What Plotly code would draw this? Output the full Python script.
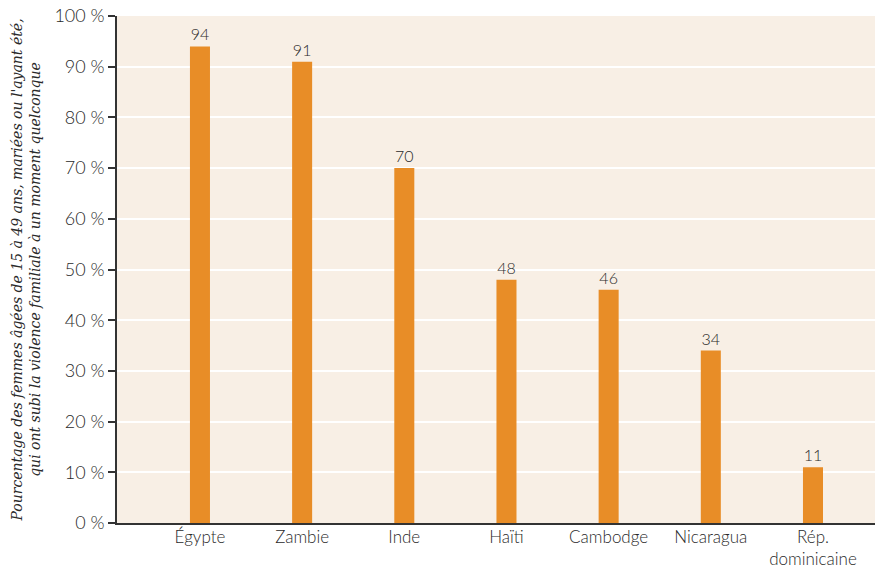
import plotly.graph_objects as go

categories = ["Égypte", "Zambie", "Inde", "Haïti", "Cambodge", "Nicaragua", "Rép.<br>dominicaine"]
values = [94, 91, 70, 48, 46, 34, 11]
y_ticks = [0, 10, 20, 30, 40, 50, 60, 70, 80, 90, 100]
y_tick_labels = [f"{v} %" for v in y_ticks]

fig = go.Figure(go.Bar(
    x=list(range(len(categories))),
    y=values,
    width=0.196,
    marker=dict(color="#e88d27", line=dict(width=0)),
    text=[str(v) for v in values],
    textposition="outside",
    textfont=dict(family="Lato", size=16, color="#2a2a2a", weight=300),
    cliponaxis=False,
))

fig.update_layout(
    width=875, height=570,
    margin=dict(l=117, r=0, t=16, b=47),
    paper_bgcolor="white",
    plot_bgcolor="#f8efe5",
    showlegend=False,
    font=dict(family="Lato", color="#2a2a2a"),
)
fig.update_xaxes(
    tickmode="array",
    tickvals=list(range(len(categories))),
    ticktext=categories,
    range=[-0.812, 6.607],
    showgrid=False,
    showline=True, linecolor="#333333", linewidth=1.5,
    ticks="", tickfont=dict(family="Lato", size=17, color="#2a2a2a", weight=300),
    ticklabelstandoff=-2,
    automargin=False,
    fixedrange=True,
)
fig.update_yaxes(
    range=[0, 100],
    tickmode="array",
    tickvals=y_ticks,
    ticktext=y_tick_labels,
    showgrid=True, gridcolor="white", gridwidth=1.5,
    showline=True, linecolor="#333333", linewidth=1.5,
    ticks="outside", ticklen=7, tickcolor="#333333", tickwidth=1.5,
    tickfont=dict(family="Lato", size=18, color="#2a2a2a", weight=300),
    zeroline=False,
    automargin=False,
    title=dict(
        text="<i>Pourcentage des femmes âgées de 15 à 49 ans, mariées ou l'ayant été,<br>qui ont subi la violence familiale à un moment quelconque</i>",
        font=dict(family="DejaVu Serif", size=14, color="#2a2a2a"),
        standoff=10,
    ),
)

fig.write_html("out.html")
